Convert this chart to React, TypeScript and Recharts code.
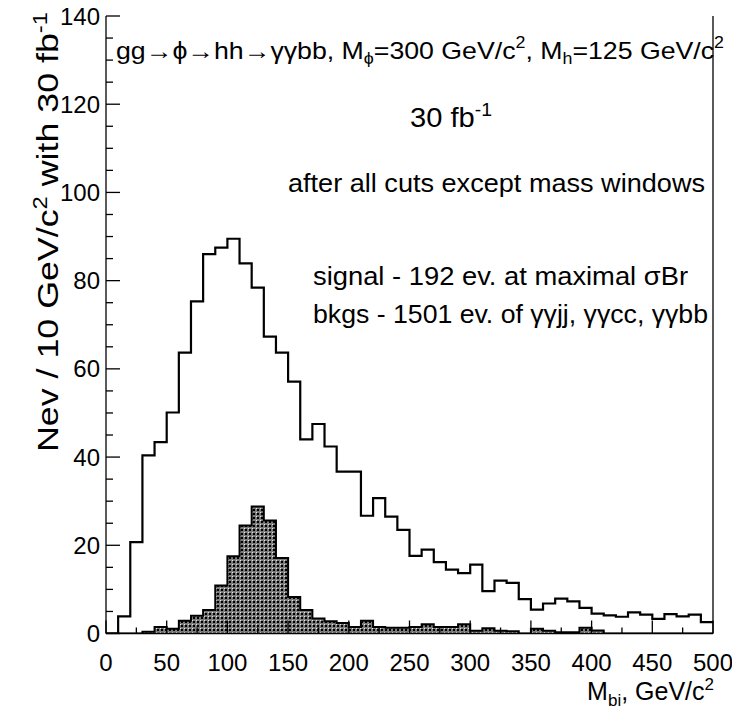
import React from "react";
import {
  ComposedChart,
  Area,
  Line,
  XAxis,
  YAxis,
  ReferenceLine,
} from "recharts";

// M_bi histogram, 10 GeV/c^2 bins from 0 to 500
const binLowEdges = [
  0, 10, 20, 30, 40, 50, 60, 70, 80, 90,
  100, 110, 120, 130, 140, 150, 160, 170, 180, 190,
  200, 210, 220, 230, 240, 250, 260, 270, 280, 290,
  300, 310, 320, 330, 340, 350, 360, 370, 380, 390,
  400, 410, 420, 430, 440, 450, 460, 470, 480, 490,
];
const histUpperEdge = 500;

// backgrounds (γγjj, γγcc, γγbb)
const bkgCounts = [
  0, 3.9, 20.7, 40.4, 43.4, 50.1, 63.7, 75.3, 86.0, 87.5,
  89.5, 83.9, 78.4, 67.3, 63.7, 57.1, 44.0, 47.5, 42.4, 36.7,
  36.7, 26.7, 30.7, 26.5, 23.5, 17.6, 19.0, 16.2, 14.5, 13.7,
  15.6, 9.6, 12.0, 11.5, 7.8, 5.4, 6.8, 7.9, 7.3, 5.8,
  4.5, 4.1, 3.8, 4.8, 4.3, 3.3, 4.4, 3.9, 4.3, 2.6,
];

// signal gg -> phi -> hh -> γγbb
const sigCounts = [
  0, 0, 0, 0.4, 1.5, 1.1, 2.9, 4.0, 5.3, 10.9,
  17.5, 24.5, 28.8, 25.6, 17.1, 8.3, 5.3, 3.4, 2.8, 2.4,
  1.5, 2.9, 1.5, 1.3, 1.3, 1.5, 2.1, 1.5, 1.5, 2.1,
  0.6, 1.2, 0.6, 0.5, 0, 1.1, 0.6, 0.3, 0.3, 1.3,
  0.7, 0, 0, 0, 0, 0, 0, 0, 0, 0,
];

const xTicks = [
  0, 25, 50, 75, 100, 125, 150, 175, 200, 225, 250,
  275, 300, 325, 350, 375, 400, 425, 450, 475, 500,
];
const yTicks = [
  0, 5, 10, 15, 20, 25, 30, 35, 40, 45, 50, 55, 60, 65, 70,
  75, 80, 85, 90, 95, 100, 105, 110, 115, 120, 125, 130, 135, 140,
];

const rows = binLowEdges.map((x, i) => ({
  x,
  bkg: bkgCounts[i],
  sig: sigCounts[i],
}));
// closing point so the last step reaches the upper edge
rows.push({
  x: histUpperEdge,
  bkg: bkgCounts[bkgCounts.length - 1],
  sig: sigCounts[sigCounts.length - 1],
});

const FONT = '"Liberation Sans", Arial, Helvetica, sans-serif';

const YTick = (props: any) => {
  const { x, y, payload } = props;
  const v = payload.value as number;
  const major = v % 20 === 0;
  return (
    <g>
      <line x1={x} x2={x + (major ? 14 : 7)} y1={y} y2={y} stroke="#000" strokeWidth={1.3} />
      {major && (
        <text x={x - 6} y={y} dy="0.36em" textAnchor="end" fontSize={24} fontFamily={FONT} fill="#000">
          {v}
        </text>
      )}
    </g>
  );
};

const XTick = (props: any) => {
  const { x, y, payload } = props;
  const v = payload.value as number;
  const major = v % 50 === 0;
  return (
    <g>
      <line x1={x} x2={x} y1={y} y2={y - (major ? 13 : 6)} stroke="#000" strokeWidth={1.3} />
      {major && (
        <text x={x} y={y + 37} textAnchor="middle" fontSize={24} fontFamily={FONT} fill="#000">
          {v}
        </text>
      )}
    </g>
  );
};

export default function App() {
  return (
    <div style={{ width: 740, height: 716, margin: "-8px 0 0 -8px" }}>
      <ComposedChart
        width={740}
        height={716}
        data={rows}
        margin={{ top: 16, right: 27, bottom: 52.5, left: 46 }}
      >
        <defs>
          <pattern id="sigHatch" width={4} height={4} patternUnits="userSpaceOnUse">
            <rect width={4} height={4} fill="#7c7c7c" />
            <rect x={1} y={1} width={2} height={2} fill="#000" />
            <rect x={0} y={0} width={1} height={1} fill="#e8e8e8" />
          </pattern>
        </defs>
        <XAxis
          dataKey="x"
          type="number"
          domain={[0, 500]}
          ticks={xTicks}
          interval={0}
          tickSize={0}
          tickMargin={0}
          tickLine={false}
          tick={<XTick />}
          axisLine={{ stroke: "#000", strokeWidth: 1.3 }}
          allowDataOverflow
        />
        <YAxis
          type="number"
          domain={[0, 140]}
          ticks={yTicks}
          interval={0}
          width={60}
          tickSize={0}
          tickMargin={0}
          tickLine={false}
          tick={<YTick />}
          axisLine={{ stroke: "#000", strokeWidth: 1.3 }}
          allowDataOverflow
        />
        <Area
          type="stepAfter"
          dataKey="sig"
          stroke="#000"
          strokeWidth={2}
          fill="url(#sigHatch)"
          fillOpacity={1}
          isAnimationActive={false}
          dot={false}
          activeDot={false}
        />
        <Line
          type="stepAfter"
          dataKey="bkg"
          stroke="#000"
          strokeWidth={2.2}
          dot={false}
          activeDot={false}
          isAnimationActive={false}
        />
        <ReferenceLine x={500} stroke="#000" strokeWidth={1.3} />

        <text x={116} y={59} fontSize={24} fontFamily={FONT} fill="#000" textLength={608} lengthAdjust="spacingAndGlyphs">
          gg→ϕ→hh→γγbb, M<tspan dy={5} fontSize={16}>ϕ</tspan>
          <tspan dy={-5}>=300 GeV/c</tspan>
          <tspan dy={-11} fontSize={16}>2</tspan>
          <tspan dy={11}>, M</tspan>
          <tspan dy={5} fontSize={16}>h</tspan>
          <tspan dy={-5}>=125 GeV/c</tspan>
          <tspan dy={-11} fontSize={16}>2</tspan>
        </text>
        <text x={410} y={127} fontSize={27} fontFamily={FONT} fill="#000" textLength={82} lengthAdjust="spacingAndGlyphs">
          30 fb<tspan dy={-11} fontSize={18}>-1</tspan>
        </text>
        <text x={288} y={192} fontSize={26} fontFamily={FONT} fill="#000" textLength={417} lengthAdjust="spacingAndGlyphs">
          after all cuts except mass windows
        </text>
        <text x={313} y={285} fontSize={26} fontFamily={FONT} fill="#000" textLength={375} lengthAdjust="spacingAndGlyphs">
          signal - 192 ev. at maximal σBr
        </text>
        <text x={313} y={323} fontSize={26} fontFamily={FONT} fill="#000" textLength={395} lengthAdjust="spacingAndGlyphs">
          bkgs - 1501 ev. of γγjj, γγcc, γγbb
        </text>

        <text
          transform="translate(58,12) rotate(-90)"
          x={0}
          y={0}
          textAnchor="end"
          fontSize={30}
          fontFamily={FONT}
          fill="#000"
          textLength={440}
          lengthAdjust="spacingAndGlyphs"
        >
          Nev / 10 GeV/c<tspan dy={-11} fontSize={20}>2</tspan>
          <tspan dy={11}> with 30 fb</tspan>
          <tspan dy={-11} fontSize={20}>-1</tspan>
        </text>
        <text x={714} y={700} textAnchor="end" fontSize={25} fontFamily={FONT} fill="#000">
          M<tspan dy={6} fontSize={17}>bi</tspan>
          <tspan dy={-6}>, GeV/c</tspan>
          <tspan dy={-10} fontSize={17}>2</tspan>
        </text>
      </ComposedChart>
    </div>
  );
}
